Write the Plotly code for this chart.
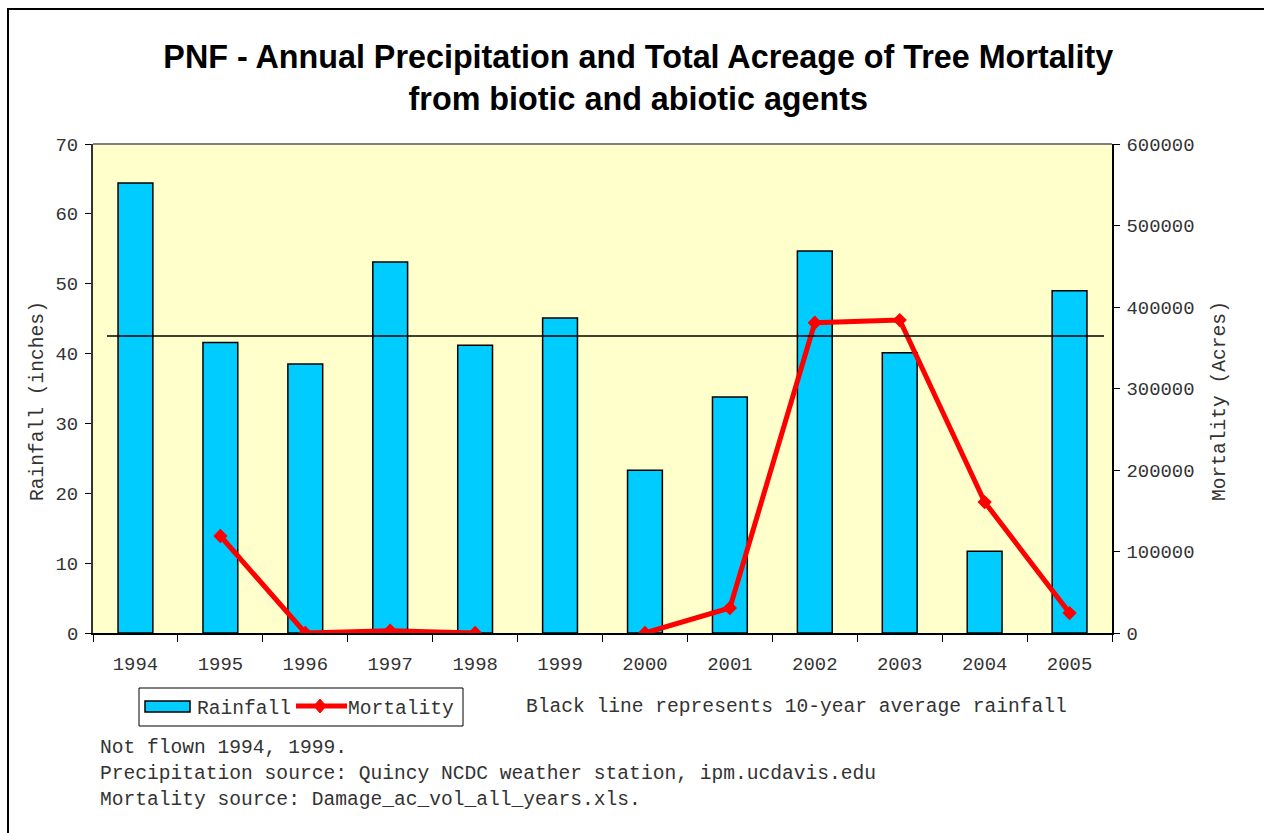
import plotly.graph_objects as go

# Annual data, Plumas National Forest
years = ["1994", "1995", "1996", "1997", "1998", "1999",
         "2000", "2001", "2002", "2003", "2004", "2005"]
rainfall_in = [64.4, 41.6, 38.5, 53.1, 41.2, 45.1,
               23.3, 33.8, 54.7, 40.1, 11.7, 49.0]
# Not flown in 1994 and 1999
mortality_ac = [None, 119000, 0, 2800, 0, None,
                0, 30700, 380700, 384000, 160700, 24500]
avg_rainfall = 42.5  # 10-year average

rain_ticks = [0, 10, 20, 30, 40, 50, 60, 70]
mort_ticks = [0, 100000, 200000, 300000, 400000, 500000, 600000]

notes = [
    "Not flown 1994, 1999.",
    "Precipitation source: Quincy NCDC weather station, ipm.ucdavis.edu",
    "Mortality source: Damage_ac_vol_all_years.xls.",
]

MONO = "Liberation Mono, Courier New, monospace"
TXT = "#333333"
TXT_SIZE = 19.6
TICK_SIZE = 18.9
BAR_COLOR = "#00CCFF"
LINE_COLOR = "#FF0000"

# plot-area geometry in pixels (used for paper-coordinate decorations)
W, H = 1264, 833
L, R, T, B = 93, 1112, 144, 633


def px(x):
    return (x - L) / (R - L)


def py(y):
    return (B - y) / (B - T)


fig = go.Figure()

fig.add_trace(go.Bar(
    x=years, y=rainfall_in, name="Rainfall",
    marker=dict(color=BAR_COLOR, line=dict(color="black", width=1.5)),
    yaxis="y", showlegend=False,
))

fig.add_trace(go.Scatter(
    x=years, y=mortality_ac, name="Mortality", mode="lines+markers",
    line=dict(color=LINE_COLOR, width=5),
    marker=dict(symbol="diamond", size=11, color=LINE_COLOR),
    connectgaps=False, yaxis="y2", showlegend=False,
))

shapes = [
    # 10-year average rainfall line
    dict(type="line", xref="paper", yref="y",
         x0=px(107), x1=px(1104), y0=avg_rainfall, y1=avg_rainfall,
         line=dict(color="black", width=1.5)),
    # top edge of plot area
    dict(type="line", xref="paper", yref="paper", x0=0, x1=1, y0=1, y1=1,
         line=dict(color="#808080", width=2)),
    # outer frame
    dict(type="rect", xref="paper", yref="paper",
         x0=px(8), x1=px(1272), y0=py(9), y1=py(845),
         line=dict(color="black", width=2), layer="below"),
    # legend box
    dict(type="rect", xref="paper", yref="paper",
         x0=px(139), x1=px(463), y0=py(688), y1=py(726),
         line=dict(color="black", width=1), fillcolor="white"),
    # legend: rainfall swatch
    dict(type="rect", xref="paper", yref="paper",
         x0=px(145), x1=px(190), y0=py(701), y1=py(712),
         line=dict(color="black", width=1.5), fillcolor=BAR_COLOR),
    # legend: mortality line sample
    dict(type="line", xref="paper", yref="paper",
         x0=px(296), x1=px(347), y0=py(706), y1=py(706),
         line=dict(color=LINE_COLOR, width=5)),
    # legend: mortality diamond marker
    dict(type="path", xref="paper", yref="paper",
         path=(f"M {px(314)} {py(706)} L {px(320)} {py(699)} "
               f"L {px(326)} {py(706)} L {px(320)} {py(713)} Z"),
         line=dict(color=LINE_COLOR, width=1), fillcolor=LINE_COLOR),
]

annotations = [
    dict(text="Rainfall (inches)", xref="paper", yref="paper",
         x=px(38), y=py(401), textangle=-90, showarrow=False,
         xanchor="center", yanchor="middle",
         font=dict(family=MONO, size=TXT_SIZE, color=TXT)),
    dict(text="Mortality (Acres)", xref="paper", yref="paper",
         x=px(1220), y=py(401), textangle=-90, showarrow=False,
         xanchor="center", yanchor="middle",
         font=dict(family=MONO, size=TXT_SIZE, color=TXT)),
    dict(text="Black line represents 10-year average rainfall",
         xref="paper", yref="paper", x=px(524), y=py(707),
         xanchor="left", yanchor="middle", showarrow=False,
         font=dict(family=MONO, size=TXT_SIZE, color=TXT)),
    dict(text="Rainfall", xref="paper", yref="paper", x=px(195), y=py(709),
         xanchor="left", yanchor="middle", showarrow=False,
         font=dict(family=MONO, size=TXT_SIZE, color=TXT)),
    dict(text="Mortality", xref="paper", yref="paper", x=px(346), y=py(709),
         xanchor="left", yanchor="middle", showarrow=False,
         font=dict(family=MONO, size=TXT_SIZE, color=TXT)),
]
for i, line in enumerate(notes):
    annotations.append(dict(
        text=line, xref="paper", yref="paper", x=px(98), y=py(748 + 26 * i),
        xanchor="left", yanchor="middle", showarrow=False,
        font=dict(family=MONO, size=TXT_SIZE, color=TXT)))

fig.update_layout(
    width=W, height=H,
    margin=dict(l=L, r=W - R, t=T, b=H - B),
    paper_bgcolor="white", plot_bgcolor="#FFFFCC",
    title=dict(
        text="PNF - Annual Precipitation and Total Acreage of Tree Mortality"
             "<br>from biotic and abiotic agents",
        x=0.505, xanchor="center", y=1 - 68 / H, yanchor="top",
        font=dict(family="Liberation Sans, Arial, sans-serif", size=32.3,
                  color="black", weight="bold"),
    ),
    bargap=0.59,
    showlegend=False,
    xaxis=dict(
        type="category", range=[-0.5, 11.5], tickson="boundaries",
        ticks="outside", ticklen=7,
        tickcolor="black", showline=True, linecolor="black", linewidth=1.5,
        showgrid=False, tickfont=dict(family=MONO, size=TICK_SIZE, color=TXT),
        ticklabelstandoff=13,
    ),
    yaxis=dict(
        range=[0, 70], tickvals=rain_ticks, ticks="outside", ticklen=6,
        tickcolor="black", showline=True, linecolor="#333333", linewidth=2,
        showgrid=False, zeroline=False,
        tickfont=dict(family=MONO, size=TICK_SIZE, color=TXT),
        ticklabelstandoff=3,
    ),
    yaxis2=dict(
        range=[0, 600000], tickvals=mort_ticks, tickformat="d",
        overlaying="y", side="right",
        ticks="outside", ticklen=6, tickcolor="black", showline=True,
        linecolor="black", linewidth=1.5, showgrid=False, zeroline=False,
        tickfont=dict(family=MONO, size=TICK_SIZE, color=TXT),
        ticklabelstandoff=3,
    ),
    shapes=shapes,
    annotations=annotations,
)

fig.write_html("out.html")
